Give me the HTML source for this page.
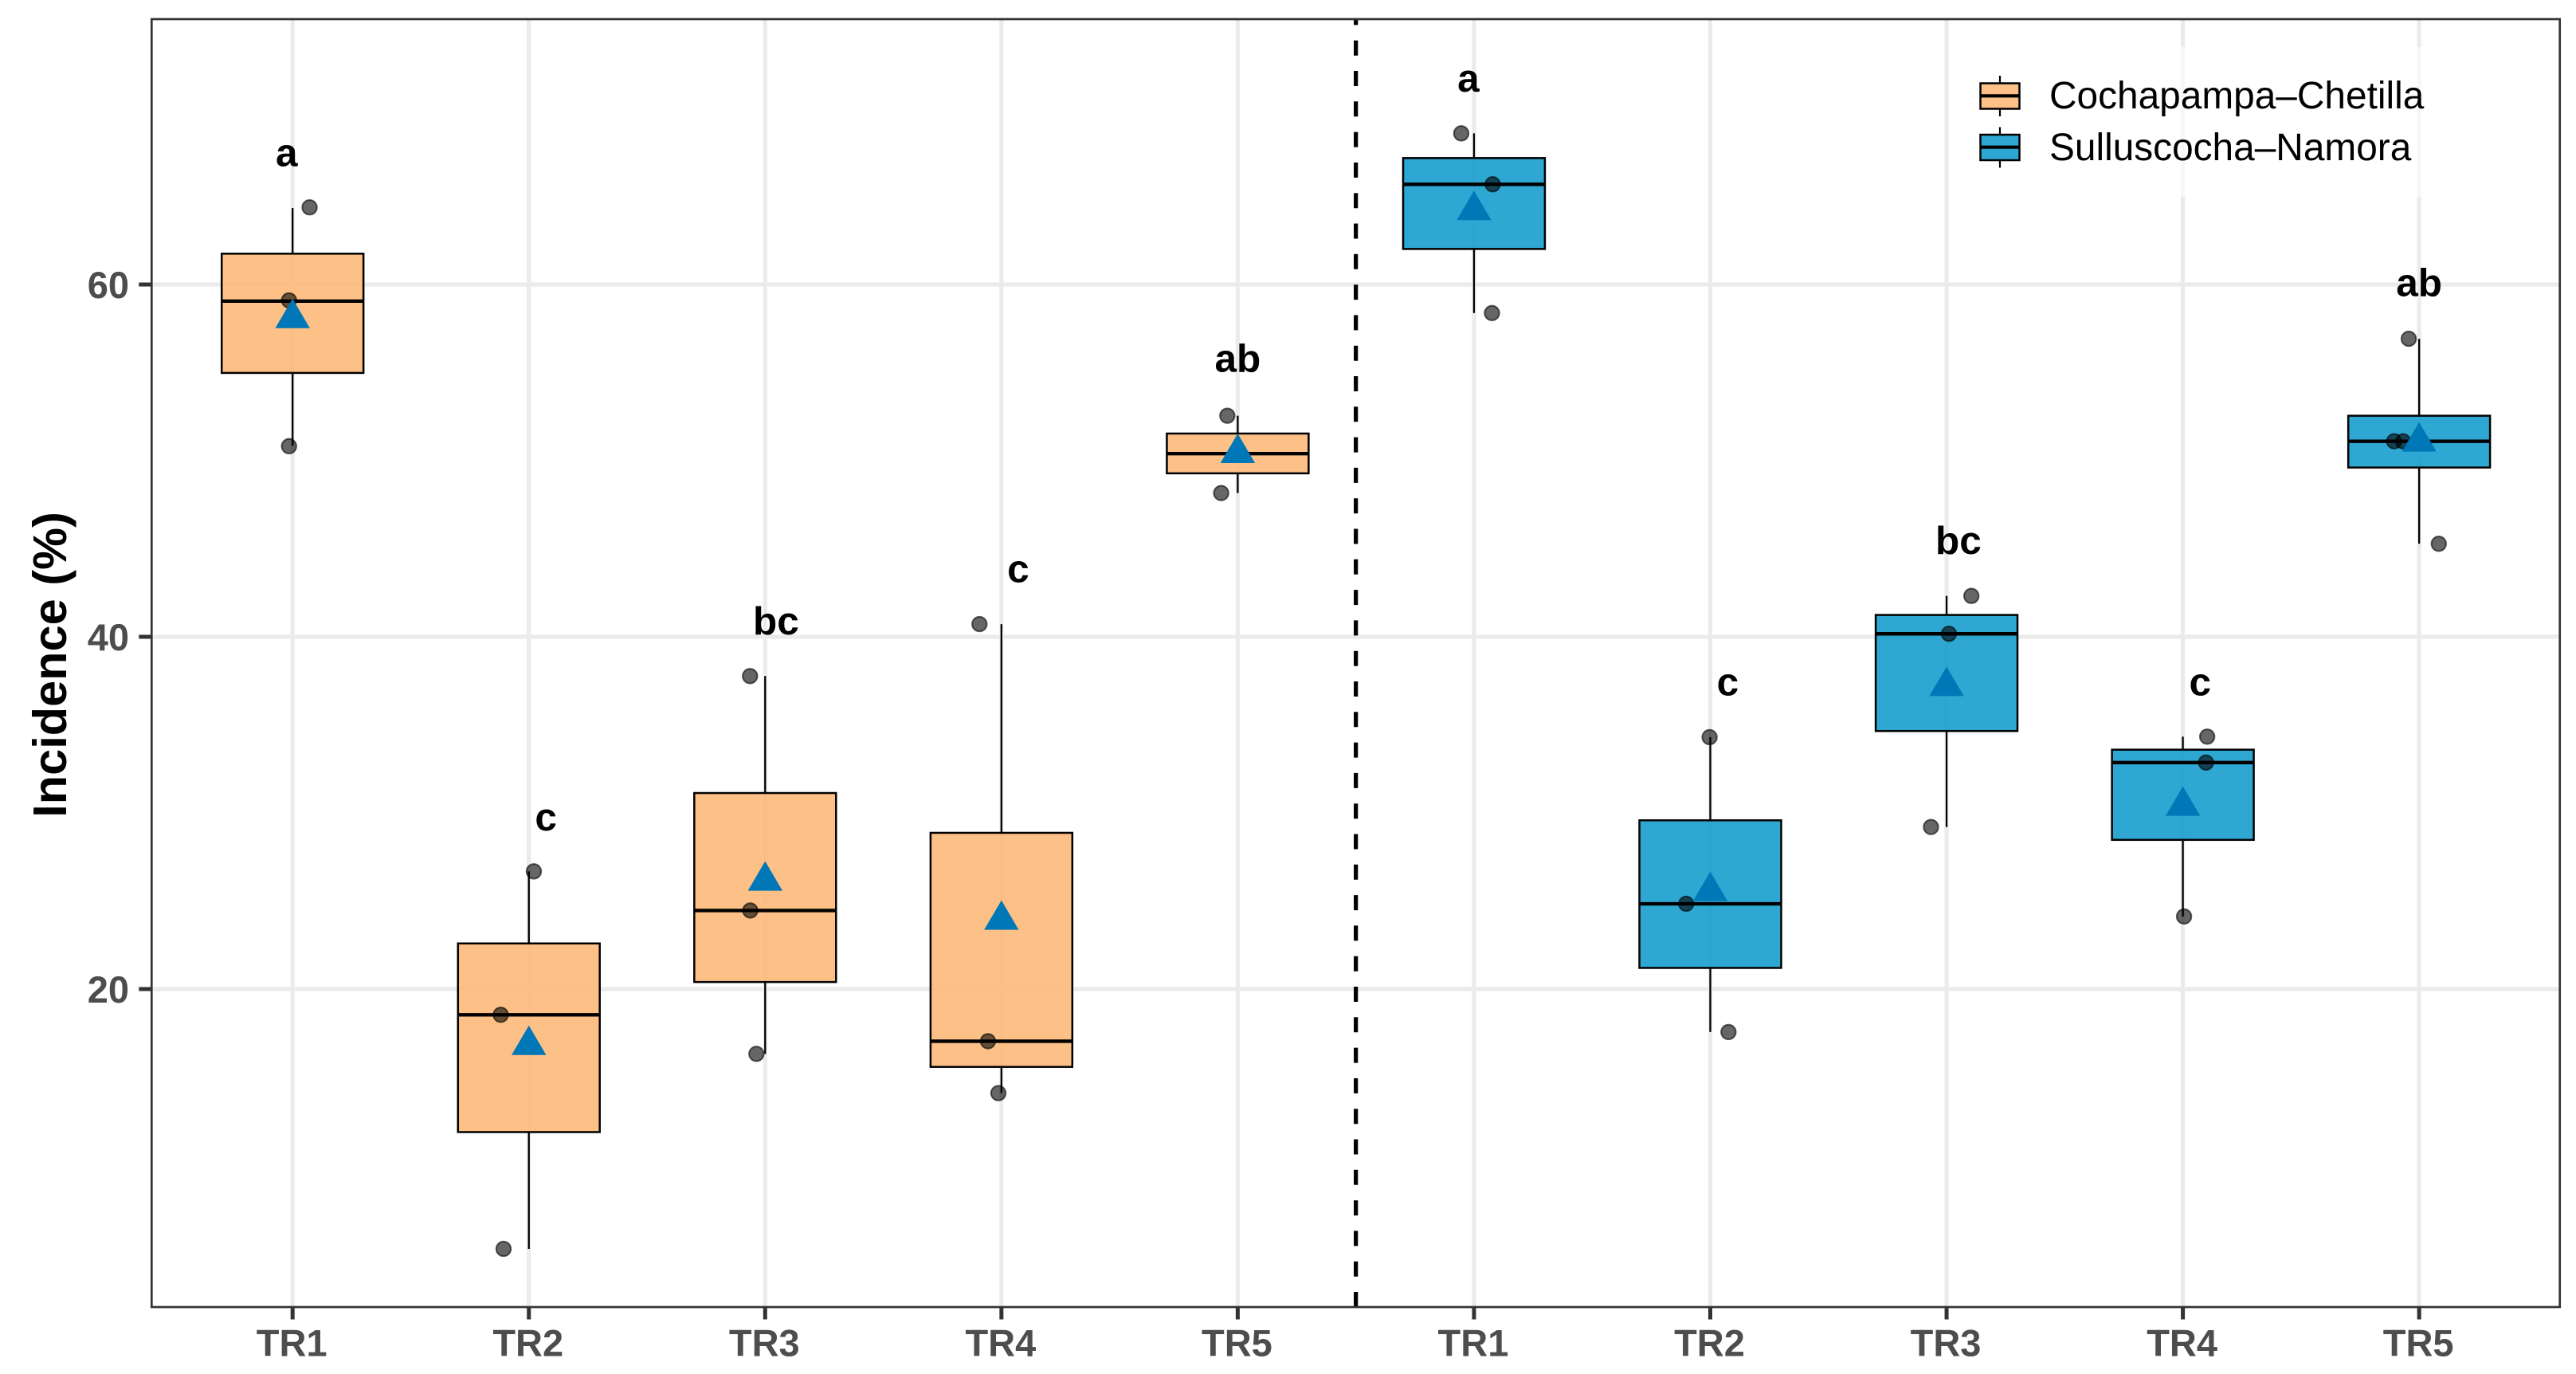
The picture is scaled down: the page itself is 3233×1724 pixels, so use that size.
<!DOCTYPE html>
<html lang="en">
<head>
<meta charset="utf-8">
<title>Incidence boxplots</title>
<style>
html,body{margin:0;padding:0;background:#fff;width:3233px;height:1724px;overflow:hidden}
svg{display:block;font-family:"Liberation Sans",Arial,sans-serif}
</style>
</head>
<body>
<svg id="chart" xmlns="http://www.w3.org/2000/svg" width="3233" height="1724" viewBox="0 0 3233 1724">
  <rect x="0" y="0" width="3233" height="1724" fill="#ffffff"/>
  <g id="grid"></g>
  <g id="marks"></g>
  <g id="frame"></g>
  <g id="legend">
    <rect x="2468" y="59" width="600" height="188" fill="#ffffff" fill-opacity="0.6"/>
    <g>
      <line x1="2510" x2="2510" y1="95" y2="146" stroke="#000" stroke-width="2.2"/>
      <rect x="2485.5" y="104.5" width="49" height="32" fill="#FDC188" stroke="#000" stroke-width="2.5"/>
      <line x1="2485.5" x2="2534.5" y1="120.3" y2="120.3" stroke="#000" stroke-width="4.2"/>
      <text x="2572" y="136" font-size="47.8" fill="#000">Cochapampa–Chetilla</text>
    </g>
    <g>
      <line x1="2510" x2="2510" y1="159.5" y2="210.5" stroke="#000" stroke-width="2.2"/>
      <rect x="2485.5" y="169" width="49" height="32" fill="#2EA8D3" stroke="#000" stroke-width="2.5"/>
      <line x1="2485.5" x2="2534.5" y1="184.7" y2="184.7" stroke="#000" stroke-width="4.2"/>
      <text x="2572" y="201" font-size="47.8" fill="#000">Sulluscocha–Namora</text>
    </g>
  </g>
</svg>
<script>
// Categories: five treatments at Cochapampa-Chetilla, then five at Sulluscocha-Namora
const categories = ["TR1","TR2","TR3","TR4","TR5","TR1","TR2","TR3","TR4","TR5"];
const siteOfCategory = ["cochapampa","cochapampa","cochapampa","cochapampa","cochapampa","sulluscocha","sulluscocha","sulluscocha","sulluscocha","sulluscocha"];
const q1Values       = [54.98,11.88,20.40,15.58,49.28,62.02,21.20,34.65,28.47,49.61];
const medianValues   = [59.06,18.54,24.46,17.04,50.40,65.69,24.84,40.17,32.86,51.10];
const q3Values       = [61.75,22.59,31.13,28.87,51.54,67.18,29.58,41.24,33.59,52.55];
const whiskerLow     = [50.84, 5.25,16.32,14.09,48.16,58.38,17.56,29.20,24.12,45.28];
const whiskerHigh    = [64.34,26.68,37.77,40.72,52.55,68.58,34.30,42.32,34.33,56.92];
const meanValues     = [58.08,16.81,26.14,23.92,50.42,64.21,25.55,37.19,30.39,51.07];
const pointValues = [
  [64.38,59.10,50.82],[26.68,18.54,5.25],[37.77,24.46,16.32],[40.72,17.04,14.09],[52.55,50.40,48.16],
  [68.58,65.69,58.38],[34.30,24.84,17.56],[42.32,40.17,29.20],[34.33,32.86,24.12],[56.92,51.10,51.10,45.28]
];
const pointJitter = [
  [0.072,-0.015,-0.015],[0.021,-0.119,-0.107],[-0.064,-0.063,-0.037],[-0.093,-0.057,-0.013],[-0.044,-0.010,-0.070],
  [-0.054,0.079,0.076],[-0.003,-0.102,0.077],[0.105,0.010,-0.066],[0.103,0.098,0.005],[-0.044,-0.106,-0.068,0.083]
];
const letterLabels  = ["a","c","bc","c","ab","a","c","bc","c","ab"];
const letterValues  = [66.71,29.00,40.14,43.09,55.04,70.95,36.67,44.70,36.67,59.34];
const letterOffsets = [-0.025,0.072,0.046,0.071,0,-0.024,0.074,0.05,0.073,0];
const yTickValues = [20,40,60];
const boxWidth = 0.6;

const SVG_NS = "http://www.w3.org/2000/svg";
const panel = {left:190.3, right:3212.7, top:24, bottom:1640};
const xScale = function(pos){ return 367.2 + 296.55 * pos; };
const yScale = function(val){ return 357 + (60 - val) * 22.1; };
const fills = {cochapampa:"#FDB97A", sulluscocha:"#179ECE"};

function mk(parent, tag, attrs, text){
  const el = document.createElementNS(SVG_NS, tag);
  for (const k in attrs) el.setAttribute(k, attrs[k]);
  if (text !== undefined) el.textContent = text;
  parent.appendChild(el);
  return el;
}

const gridG = document.getElementById("grid");
const marksG = document.getElementById("marks");
const frameG = document.getElementById("frame");

// grid
yTickValues.forEach(function(v){
  const el = mk(gridG, "line", {x1:panel.left, x2:panel.right, y1:yScale(v), y2:yScale(v), stroke:"#EBEBEB", "stroke-width":5.2});
  
  
});
categories.forEach(function(c,i){
  const el = mk(gridG, "line", {x1:xScale(i), x2:xScale(i), y1:panel.top, y2:panel.bottom, stroke:"#EBEBEB", "stroke-width":5.2});
  
  
});

// box plots
categories.forEach(function(c,i){
  const cx = xScale(i);
  const halfW = boxWidth * 296.55 / 2;
  const g = mk(marksG, "g", {});
  
  

  const wu = mk(g, "line", {x1:cx, x2:cx, y1:yScale(whiskerHigh[i]), y2:yScale(q3Values[i]), stroke:"#000", "stroke-width":2.3});
  
  

  const wl = mk(g, "line", {x1:cx, x2:cx, y1:yScale(q1Values[i]), y2:yScale(whiskerLow[i]), stroke:"#000", "stroke-width":2.3});
  
  

  const box = mk(g, "rect", {x:cx-halfW, y:yScale(q3Values[i]), width:2*halfW, height:yScale(q1Values[i])-yScale(q3Values[i]),
    fill:fills[siteOfCategory[i]], "fill-opacity":0.9, stroke:"#000", "stroke-width":2.5});
  
  

  const med = mk(g, "line", {x1:cx-halfW, x2:cx+halfW, y1:yScale(medianValues[i]), y2:yScale(medianValues[i]), stroke:"#000", "stroke-width":4.4});
  
  

  pointValues[i].forEach(function(v,j){
    const p = mk(g, "circle", {cx:cx + pointJitter[i][j]*296.55, cy:yScale(v), r:9.2,
      fill:"#000", "fill-opacity":0.6, stroke:"#000", "stroke-opacity":0.6, "stroke-width":2});
    
    
  });

  const my = yScale(meanValues[i]);
  const tri = mk(g, "polygon", {points:[cx+","+(my-24.7), (cx+21.7)+","+(my+12.3), (cx-21.7)+","+(my+12.3)].join(" "), fill:"#0077B6"});
  
  

  const lab = mk(g, "text", {x:cx + letterOffsets[i]*296.55, y:yScale(letterValues[i]), "text-anchor":"middle",
    "font-size":49.5, "font-weight":"bold", fill:"#000"}, letterLabels[i]);
  
  
});

// divider between sites: midway between the 5th and 6th categories
const divider = mk(frameG, "line", {x1:xScale(4.5), x2:xScale(4.5), y1:panel.bottom, y2:panel.top, stroke:"#000", "stroke-width":5.2, "stroke-dasharray":"19 19.3"});



// panel border
const border = mk(frameG, "rect", {x:panel.left, y:panel.top, width:panel.right-panel.left, height:panel.bottom-panel.top, fill:"none", stroke:"#333333", "stroke-width":2.7});



// x axis
categories.forEach(function(c,i){
  const t = mk(frameG, "line", {x1:xScale(i), x2:xScale(i), y1:panel.bottom, y2:panel.bottom+15.5, stroke:"#333333", "stroke-width":5});
  
  
  const l = mk(frameG, "text", {x:xScale(i)-1, y:1701.5, "text-anchor":"middle", "font-size":47, "font-weight":"bold", fill:"#4D4D4D"}, c);
  
  
});

// y axis
yTickValues.forEach(function(v){
  const t = mk(frameG, "line", {x1:panel.left-16, x2:panel.left, y1:yScale(v), y2:yScale(v), stroke:"#333333", "stroke-width":5});
  
  
  const l = mk(frameG, "text", {x:162, y:yScale(v)+17, "text-anchor":"end", "font-size":47, "font-weight":"bold", fill:"#4D4D4D"}, String(v));
  
  
});

const yTitle = mk(frameG, "text", {x:0, y:0, transform:"translate(83 834) rotate(-90)", "text-anchor":"middle", "font-size":59.5, "font-weight":"bold", fill:"#000"}, "Incidence (%)");


</script>
</body>
</html>
